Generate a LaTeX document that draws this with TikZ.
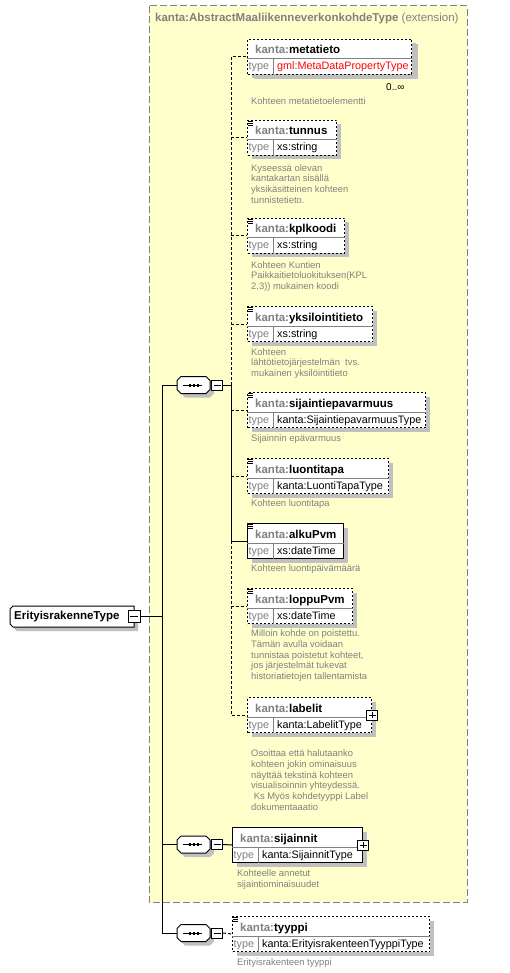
\documentclass[tikz,border=0pt]{standalone}
\usepackage{fontspec}
\setmainfont{Liberation Sans}
\definecolor{xsYellow}{HTML}{FFFFCC}
\definecolor{xsShadow}{HTML}{C0C0C0}
\definecolor{xsGray}{HTML}{808080}
\definecolor{xsRed}{HTML}{FF0000}
\usetikzlibrary{shadows}

\tikzset{
  boxshadow/.style={copy shadow={shadow xshift=4pt,shadow yshift=-4pt,draw=none,fill=xsShadow}},
  elembox/.style={rectangle, draw=black, fill=white, line width=1pt, minimum height=35pt, inner sep=0pt, boxshadow},
  optional/.style={dash pattern=on 2pt off 2pt},
  cellline/.style={draw=xsGray, line width=1pt},
  titletext/.style={anchor=base west, inner sep=0pt, font=\fontsize{11.5}{13}\selectfont\bfseries},
  typelabel/.style={anchor=base west, inner sep=0pt, text=xsGray, font=\fontsize{10.8}{12}\selectfont},
  typetext/.style={anchor=base west, inner sep=0pt, font=\fontsize{10.8}{12}\selectfont},
  doc/.style={anchor=north west, inner sep=0pt, align=left, text=xsGray, font=\fontsize{9.4}{10.8}\selectfont},
  conn/.style={line width=1pt},
  optconn/.style={line width=1pt, dash pattern=on 3pt off 2pt},
  toggle/.style={rectangle, draw=black, fill=white, line width=1pt, minimum width=11pt, minimum height=10pt, inner sep=0pt},
  minus/.style={path picture={\draw[line width=1pt] ([xshift=2pt]path picture bounding box.west) -- ([xshift=-2pt]path picture bounding box.east);}},
  plus/.style={path picture={\draw[line width=1pt] ([xshift=2pt]path picture bounding box.west) -- ([xshift=-2pt]path picture bounding box.east)
      ([yshift=-2pt]path picture bounding box.north) -- ([yshift=2pt]path picture bounding box.south);}},
  seqbox/.style={rectangle, minimum width=33pt, minimum height=17pt, inner sep=0pt},
  rootbox/.style={rectangle, anchor=west, minimum width=124pt, minimum height=21pt, inner xsep=4pt, inner ysep=0pt,
      text width=116pt, align=left, font=\fontsize{11.5}{13}\selectfont\bfseries},
}

% element box: name, x, top, width, border, title, type
\newcommand{\xsdelem}[7]{%
  \node[elembox, #5, minimum width=#4pt, anchor=north west] (#1) at (#2,#3) {};
  \draw[cellline] ([yshift=-20pt]#1.north west) -- ([yshift=-20pt]#1.north east);
  \draw[cellline] ([xshift=26pt,yshift=-20pt]#1.north west) -- ([xshift=26pt]#1.south west);
  \node[titletext] (#1title) at ([xshift=8pt,yshift=-15pt]#1.north west) {\textcolor{xsGray}{kanta:}#6};
  \node[typelabel] (#1typelabel) at ([xshift=1.5pt,yshift=-31pt]#1.north west) {type};
  \node[typetext] (#1type) at ([xshift=30pt,yshift=-31pt]#1.north west) {#7};
}
% documentation mark
\newcommand{\xsddoc}[1]{%
  \foreach \d in {1,3,5} \draw[line width=0.7pt] ([xshift=1pt,yshift=-\d pt]#1.north west) -- ++(5,0);
}
% sequence compositor: name, x, y of centre
\newcommand{\xsdseq}[3]{%
  \fill[xsShadow, shift={(#2+4,#3+4)}] (-12.5,-8.5) -- (12.5,-8.5) -- (16.5,-4.5) -- (16.5,4.5) -- (12.5,8.5)
    -- (-12.5,8.5) -- (-16.5,4.5) -- (-16.5,-4.5) -- cycle;
  \draw[fill=white, line width=1pt, shift={(#2,#3)}] (-12.5,-8.5) -- (12.5,-8.5) -- (16.5,-4.5) -- (16.5,4.5) -- (12.5,8.5)
    -- (-12.5,8.5) -- (-16.5,4.5) -- (-16.5,-4.5) -- cycle;
  \node[seqbox] (#1) at (#2,#3) {};
  \draw[line width=1pt] ([xshift=-11pt]#1.center) -- ([xshift=8pt]#1.center);
  \foreach \dx in {-5,-1,3} \fill ([xshift=\dx pt,yshift=-1.5pt]#1.center) rectangle ++(2.5,-3);
  \node[toggle, minus] (#1m) at ([xshift=7pt]#1.east) {};
}

\begin{document}
\begin{tikzpicture}[x=1pt,y=-1pt]
  \useasboundingbox (0,0) rectangle (510,973);

  % extension area
  \draw[xsGray, fill=xsYellow, line width=1pt, dash pattern=on 7pt off 3pt] (149,6) rectangle (467,902);
  \node[titletext, text=xsGray] (exttitle) at (155,22) {kanta:AbstractMaaliikenneverkonkohdeType \mdseries(extension)};

  % root type
  \fill[xsShadow, shift={(14,610)}] (3,0) -- (124,0) -- (124,21) -- (3,21) -- (0,18) -- (0,3) -- cycle;
  \draw[fill=white, line width=1pt, shift={(10,606)}] (3,0) -- (124,0) -- (124,21) -- (3,21) -- (0,18) -- (0,3) -- cycle;
  \node[rootbox] (root) at (10,616.5) {ErityisrakenneType};
  \node[toggle, minus, minimum width=12pt, minimum height=12pt] (rootm) at (root.east) {};
  \coordinate (rootjoin) at (162,616.5);

  % compositors
  \xsdseq{seqA}{193.5}{385}
  \xsdseq{seqB}{193.5}{844.5}
  \xsdseq{seqC}{193.5}{933}
  \coordinate (busA) at (231,385);

  % child elements
  \xsdelem{metatieto}{247}{39}{164}{optional, copy shadow={shadow xshift=6pt,shadow yshift=-5pt,draw=none,fill=xsShadow}}{metatieto}{\textcolor{xsRed}{gml:MetaDataPropertyType}}
  \node[typetext, font=\fontsize{10}{12}\selectfont] (metatietomult) at (386,91) {0..∞};
  \xsdelem{tunnus}{247}{120}{89}{optional}{tunnus}{xs:string}
  \xsdelem{kplkoodi}{247}{218}{97}{optional}{kplkoodi}{xs:string}
  \xsdelem{yksilointitieto}{247}{306}{125}{optional}{yksilointitieto}{xs:string}
  \xsdelem{sijaintiepavarmuus}{247}{392}{178}{optional}{sijaintiepavarmuus}{kanta:SijaintiepavarmuusType}
  \xsdelem{luontitapa}{247}{458}{141}{optional}{luontitapa}{kanta:LuontiTapaType}
  \xsdelem{alkuPvm}{247}{523}{96}{}{alkuPvm}{xs:dateTime}
  \xsdelem{loppuPvm}{247}{588}{105}{optional}{loppuPvm}{xs:dateTime}
  \xsdelem{labelit}{247}{697}{124}{optional}{labelit}{kanta:LabelitType}
  \xsdelem{sijainnit}{232}{827}{130}{}{sijainnit}{kanta:SijainnitType}
  \xsdelem{tyyppi}{232}{916}{197}{optional}{tyyppi}{kanta:ErityisrakenteenTyyppiType}
  \foreach \e in {tunnus,kplkoodi,yksilointitieto,sijaintiepavarmuus,luontitapa,alkuPvm,loppuPvm,tyyppi} {\xsddoc{\e}}
  \node[toggle, plus] (labelitplus) at (labelit.east) {};
  \node[toggle, plus] (sijainnitplus) at (sijainnit.east) {};

  % annotations
  \node[doc] (metatietodoc) at (251,97) {Kohteen metatietoelementti};
  \node[doc] (tunnusdoc) at (251,164) {Kyseessä olevan\\kantakartan sisällä\\yksikäsitteinen kohteen\\tunnistetieto.};
  \node[doc] (kplkoodidoc) at (251,261) {Kohteen Kuntien\\Paikkaitietoluokituksen(KPL\\2.3)) mukainen koodi};
  \node[doc] (yksilointitietodoc) at (251,348) {Kohteen\\lähtötietojärjestelmän\ \ tvs.\\mukainen yksilöintitieto};
  \node[doc] (sijaintiepavarmuusdoc) at (251,434.5) {Sijainnin epävarmuus};
  \node[doc] (luontitapadoc) at (251,499.5) {Kohteen luontitapa};
  \node[doc] (alkuPvmdoc) at (251,564.5) {Kohteen luontipäivämäärä};
  \node[doc] (loppuPvmdoc) at (251,629.5) {Milloin kohde on poistettu.\\Tämän avulla voidaan\\tunnistaa poistetut kohteet,\\jos järjestelmät tukevat\\historiatietojen tallentamista};
  \node[doc] (labelitdoc) at (251,749.5) {Osoittaa että halutaanko\\kohteen jokin ominaisuus\\näyttää tekstinä kohteen\\visualisoinnin yhteydessä.\\\ Ks Myös kohdetyyppi Label\\dokumentaaatio};
  \node[doc] (sijainnitdoc) at (237,869.5) {Kohteelle annetut\\sijaintiominaisuudet};
  \node[doc] (tyyppidoc) at (237,958) {Erityisrakenteen tyyppi};

  % connectors
  \draw[conn] (rootm.east) -- (rootjoin);
  \draw[conn] (seqA.west) -- (rootjoin |- seqA.west) -- (rootjoin |- seqC.west) -- (seqC.west);
  \draw[conn] (rootjoin |- seqB.west) -- (seqB.west);
  \draw[conn] (seqAm.east) -- (busA);
  \draw[optconn] (busA) -- (busA |- metatieto.west) -- (metatieto.west);
  \draw[conn] (busA) -- (busA |- alkuPvm.west) -- (alkuPvm.west);
  \draw[optconn] (busA |- alkuPvm.west) -- (busA |- labelit.west) -- (labelit.west);
  \foreach \e in {tunnus,kplkoodi,yksilointitieto,sijaintiepavarmuus,luontitapa,loppuPvm}
    \draw[optconn] (busA |- \e.west) -- (\e.west);
  \draw[conn] (seqBm.east) -- (sijainnit.west);
  \draw[optconn] (seqCm.east) -- (tyyppi.west);
\end{tikzpicture}
\end{document}
